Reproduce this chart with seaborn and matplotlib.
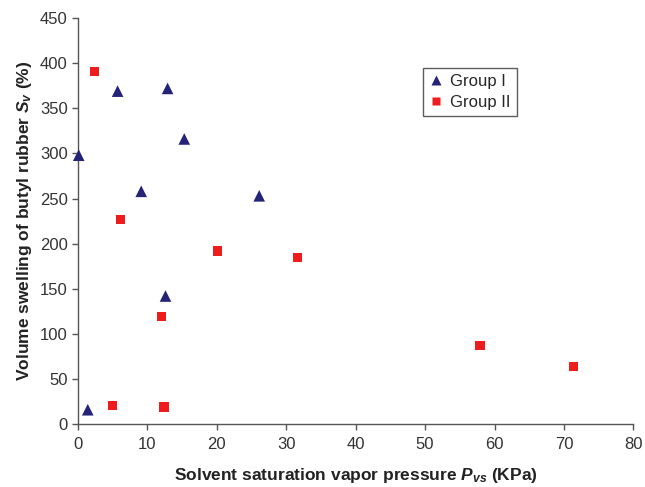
import matplotlib
matplotlib.use("Agg")
import matplotlib.pyplot as plt
import seaborn as sns
import pandas as pd

g1_x = [0.1, 5.7, 12.9, 15.3, 9.1, 26.1, 12.6, 1.4]
g1_y = [298, 369, 372, 316, 258, 253, 142, 16]
g2_x = [2.4, 6.1, 20.1, 31.6, 12.0, 5.0, 12.4, 57.9, 71.4]
g2_y = [391, 227, 192, 185, 119, 21, 19, 87, 64]
groups = ["Group I", "Group II"]

df = pd.DataFrame({
    "x": g1_x + g2_x,
    "y": g1_y + g2_y,
    "group": [groups[0]] * len(g1_x) + [groups[1]] * len(g2_x),
})

sns.set_style("ticks")
plt.rcParams["font.family"] = ["Liberation Sans", "DejaVu Sans"]
plt.rcParams["mathtext.fontset"] = "custom"
plt.rcParams["mathtext.it"] = "Liberation Sans:italic:bold"
plt.rcParams["mathtext.rm"] = "Liberation Sans:bold"

fig = plt.figure(figsize=(6.45, 4.87), dpi=100)
ax = fig.add_axes([0.121, 0.129, 0.861, 0.834])

sns.scatterplot(data=df, x="x", y="y", hue="group", style="group", size="group",
                palette={groups[0]: "#232378", groups[1]: "#ee1c1c"},
                markers={groups[0]: "^", groups[1]: "s"},
                sizes={groups[0]: 70, groups[1]: 45},
                edgecolor="none", ax=ax, clip_on=False, zorder=3)

ax.set_xlim(0, 80)
ax.set_ylim(0, 450)
ax.set_xticks(range(0, 81, 10))
ax.set_yticks(range(0, 451, 50))
sns.despine(ax=ax)
for sp in ["left", "bottom"]:
    ax.spines[sp].set_color("#555555")
    ax.spines[sp].set_linewidth(1.0)
ax.tick_params(axis="both", colors="#555555", labelcolor="#333333",
               labelsize=12, length=4, width=1)
ax.tick_params(axis="x", pad=5)

ax.set_xlabel(r"Solvent saturation vapor pressure $P_{vs}$ (KPa)",
              fontsize=12.5, fontweight="bold", labelpad=10, color="#222222")
ax.set_ylabel(r"Volume swelling of butyl rubber $S_v$ (%)",
              fontsize=12.5, fontweight="bold", labelpad=4, color="#222222")

leg = ax.legend(title=None, loc="upper left", bbox_to_anchor=(0.606, 0.897),
                frameon=True, fancybox=False, edgecolor="#333333",
                fontsize=12, handlelength=0.9, handletextpad=0.4,
                borderpad=0.35, labelspacing=0.35, markerscale=0.8)
leg.get_frame().set_linewidth(1.0)

fig.savefig("out.png", dpi=100)
